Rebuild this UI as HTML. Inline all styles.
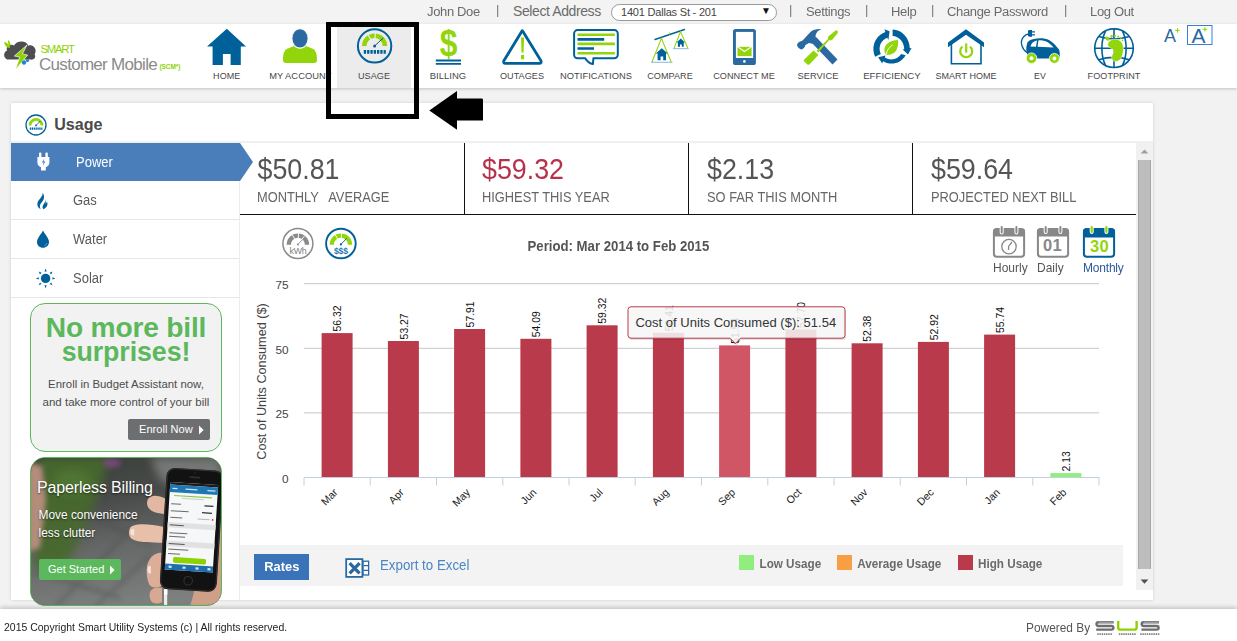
<!DOCTYPE html>
<html>
<head>
<meta charset="utf-8">
<title>Usage</title>
<style>
*{box-sizing:border-box;margin:0;padding:0}
html,body{width:1237px;height:641px;overflow:hidden}
body{position:relative;background:#f2f2f2;font-family:"Liberation Sans",sans-serif;color:#555;font-size:13px;line-height:1}
.abs,.t{position:absolute}
.t{white-space:nowrap;line-height:1;transform:scaleY(1.1);transform-origin:0 84.65%}
.n{transform:none}
svg{position:absolute;overflow:visible}
#topbar{left:0;top:0;width:1237px;height:24px;background:#f3f3f3}
#topbar .t{top:5px;font-size:13px;color:#6b6b6b;letter-spacing:-0.35px;transform:scaleY(1.04)}
#topbar .sep{color:#777;top:3.2px;font-size:13px;letter-spacing:0}
#header{left:0;top:24px;width:1237px;height:64px;background:#fff;box-shadow:0 1px 3px rgba(0,0,0,.2)}
.lbl{position:absolute;top:71px;width:120px;margin-left:-60px;font-size:9.15px;line-height:10px;color:#474747;text-align:center;white-space:nowrap;letter-spacing:0.05px}
#panel{left:11px;top:103px;width:1142px;height:497px;background:#fff;box-shadow:0 0 3px rgba(0,0,0,.15)}
#footer{left:0;top:608.5px;width:1237px;height:33px;background:#fff;box-shadow:0 -2px 4px rgba(0,0,0,.18)}
</style>
</head>
<body>
<div id="topbar" class="abs">
  <span class="t" style="left:427px">John Doe</span>
  <span class="t sep" style="left:496px">|</span>
  <span class="t" style="left:513px;font-size:14px;letter-spacing:-0.4px;top:4.4px;transform:none">Select Address</span>
  <div class="abs" style="left:611px;top:3.5px;width:166px;height:17px;border:1px solid #9a9a9a;border-radius:9px;background:#fff"></div>
  <span class="t" style="left:621px;top:6.6px;font-size:11px;color:#444;letter-spacing:-0.2px;transform:none">1401 Dallas St - 201</span>
  <span class="t" style="left:761px;top:6.4px;font-size:10px;color:#111;letter-spacing:0;transform:none">&#9660;</span>
  <span class="t sep" style="left:789px">|</span>
  <span class="t" style="left:806px">Settings</span>
  <span class="t sep" style="left:865px">|</span>
  <span class="t" style="left:891px">Help</span>
  <span class="t sep" style="left:931px">|</span>
  <span class="t" style="left:947px">Change Password</span>
  <span class="t sep" style="left:1064px">|</span>
  <span class="t" style="left:1090px">Log Out</span>
</div>
<div id="header" class="abs"></div>
<div class="abs" style="left:337px;top:27px;width:74px;height:61px;background:#ececec"></div>
<!-- header icons, page coordinates -->
<svg width="1237" height="100" viewBox="0 0 1237 100" style="left:0;top:0">
  <!-- logo cloud -->
  <g>
    <path d="M9 59.6 C3.6 59.6 2.4 52.6 7 50.4 C5.6 45.6 11 43.4 14 45.6 C16 40.4 26.4 39.6 28.4 45.8 C33.6 43.6 37.6 50 34.6 54.6 C36.6 57.8 33.4 60.4 30 59.6 Z" fill="#4e4e50"/>
    <path d="M27 45 L14.4 56 L19.6 57 L15.4 70 L27.6 55 L22.4 54 Z" fill="#8ed300" stroke="#fff" stroke-width="0.7"/>
    <path d="M4 42 C6 42 9 44 10 48 C7 48 5 46 4 42 Z M8 40 C10 41 11 44 10 47 C8 45 8 42 8 40Z" fill="#8ed300"/>
    <circle cx="24" cy="62.5" r="2.2" fill="#1f86d0"/><circle cx="27.5" cy="60.5" r="1.6" fill="#1f86d0"/>
  </g>
  <!-- HOME -->
  <path d="M226.8 28.8 L246 46.6 L240.8 46.6 L240.8 65 L230.6 65 L230.6 54 L222.9 54 L222.9 65 L212.6 65 L212.6 46.6 L207 46.6 Z" fill="#00609a"/>
  <!-- MY ACCOUNT -->
  <path d="M283 60 C283 52 285 49.5 288 48.5 L294 46 C297 49.5 303 49.5 306 46 L312 48.5 C315 49.5 317 52 317 60 C317 62 316 63 314 63 L286 63 C284 63 283 62 283 60 Z" fill="#92d50a"/>
  <ellipse cx="300" cy="38.4" rx="8" ry="9.6" fill="#2a6aa0" stroke="#fff" stroke-width="0.8"/>
  <!-- USAGE -->
  <g>
    <circle cx="374.6" cy="45.9" r="16.7" fill="none" stroke="#00609a" stroke-width="2"/>
    <path d="M362 46 A12.6 12.6 0 0 1 387.2 46 L382.6 46 A8 8 0 0 0 366.6 46 Z" fill="#92d50a"/>
    <path d="M374.6 46 L367.6 34 M374.6 46 L375.4 32" stroke="#ececec" stroke-width="1.2"/>
    <path d="M374.6 46 L383.2 38" stroke="#00609a" stroke-width="1" />
    <circle cx="374.6" cy="46" r="1.5" fill="#00609a"/>
    <path d="M363.8 51.8 h22" stroke="#00609a" stroke-width="3.8" stroke-dasharray="2.3 1"/>
  </g>
  <!-- BILLING -->
  <text transform="translate(448.6 55.8) scale(0.875 1)" x="0" y="0" font-family="Liberation Sans" font-weight="700" font-size="36.4" fill="#92d50a" text-anchor="middle">$</text>
  <path d="M435.8 60.5 h25.2 M435.8 63.9 h25.2" stroke="#00609a" stroke-width="1.9"/>
  <!-- OUTAGES -->
  <path d="M522.3 30.6 L540.8 60.5 C541.6 62 541 63.4 539.3 63.4 L505.5 63.4 C503.8 63.4 503.2 62 504 60.5 Z" fill="none" stroke="#00609a" stroke-width="2.8" stroke-linejoin="round"/>
  <path d="M521 37.6 h3.1 l-0.5 15 h-2.1 Z" fill="#92d50a"/><rect x="521" y="55" width="3.1" height="4.2" fill="#92d50a"/>
  <!-- NOTIFICATIONS -->
  <path d="M577.6 30.1 h36.7 a3.5 3.5 0 0 1 3.5 3.5 v21.2 a3.5 3.5 0 0 1 -3.5 3.5 h-20.8 c-0.6 3 -0.3 4.8 -0.7 5.8 c-3 -0.6 -5.6 -3 -7.6 -5.8 h-7.6 a3.5 3.5 0 0 1 -3.5 -3.5 v-21.2 a3.5 3.5 0 0 1 3.5 -3.5 Z" fill="#fff" stroke="#00609a" stroke-width="2"/>
  <path d="M577.5 34.8 h37.4 M577.5 43.9 h37.4 M577.5 53.2 h37.4" stroke="#92d50a" stroke-width="2.6"/>
  <path d="M577.5 39.4 h26.7 M577.5 48.5 h16.5" stroke="#00609a" stroke-width="2.6"/>
  <!-- COMPARE -->
  <g>
    <path d="M655 39.5 L684.5 29.5" stroke="#00609a" stroke-width="1.4" stroke-linecap="round"/>
    <path d="M652 62 L661.4 38.4 L671.2 62 M674 48.4 L680.5 31.6 L687.9 48.4 M669.5 32.5 v2" stroke="#92d50a" stroke-width="1.1" fill="none"/>
    <path d="M651 62.3 h21.5 M673 48.7 h15.6" stroke="#6fa6cf" stroke-width="0.8"/>
    <path d="M661.8 48.2 L667.8 53.6 L666 53.6 L666 60.2 L663.2 60.2 L663.2 56.6 L660.6 56.6 L660.6 60.2 L657.6 60.2 L657.6 53.6 L655.8 53.6 Z" fill="#00609a"/>
    <path d="M680.8 38.6 L685 42.4 L683.7 42.4 L683.7 46.8 L681.8 46.8 L681.8 44.4 L680 44.4 L680 46.8 L677.9 46.8 L677.9 42.4 L676.6 42.4 Z" fill="#00609a"/>
  </g>
  <!-- CONNECT ME -->
  <rect x="733" y="28.9" width="22.9" height="36.1" rx="2.6" fill="#2a6aa0"/>
  <rect x="735.9" y="31.9" width="17.3" height="26.1" fill="#fff"/>
  <rect x="737.5" y="46.8" width="14.1" height="9.3" fill="#92d50a"/>
  <path d="M737.5 46.6 L744.5 51.5 L751.6 46.6" fill="none" stroke="#fff" stroke-width="1.1"/>
  <circle cx="744.4" cy="61.4" r="1.3" fill="#fff"/>
  <!-- SERVICE -->
  <g>
    <path d="M813 40.5 L816.5 37.6 L837.5 59.5 L832.5 64.4 L813.4 44.6 Z" fill="#2a6aa0"/>
    <path d="M821.4 29 C816 28.6 812 30 810 32.4 L802.6 40.4 C800 41 797.6 42.6 797 44.6 C796.8 46.6 799.6 49.6 801.6 49.4 C803.6 49 805 47 805.4 45 L809 43 L815.6 44.6 L818.4 39.4 L815.6 37 C815.4 33.6 817.6 30.6 821.4 29 Z" fill="#2a6aa0"/>
    <path d="M837.3 30.8 C838.2 31.4 838 32.6 837.4 33.4 L832.4 39.6 C831.4 40.6 830 40.6 829.2 40 L818.4 52.4 L816.6 50.8 L828 39 C827.6 38 827.8 37 828.8 36 L835 31 C835.8 30.4 836.8 30.4 837.3 30.8 Z" fill="#92d50a"/>
    <path d="M813.6 50.4 L818.4 55 L809.4 64.4 C808.6 65 808 65 807.4 64.4 L804.2 61.4 C803.6 60.8 803.6 60 804.2 59.4 Z" fill="#92d50a"/>
  </g>
  <!-- EFFICIENCY -->
  <g id="eff" transform="translate(891.6 46.5) scale(1.0 1.05) translate(-891.6 -45.1)">
  <g fill="#00609a">
    <path d="M889.6 30.5 L884.4 28.6 L885.4 31.2 C878 33.6 873.4 40.4 873.4 47.4 C873.4 50 874 52.6 875.2 54.8 L880.8 52.2 C880 50.6 879.6 49 879.6 47.4 C879.6 42.6 882.6 38.4 887.4 36.8 L888.4 39 Z"/>
    <path d="M892.6 28.8 C901.8 29 909.8 37 909.8 46.8 L911.6 46.6 L908 52.8 L902.6 48 L904.2 47.6 C904.2 41 899.2 35.2 892.6 35 Z"/>
    <path d="M905.6 53.4 C902.6 58.6 897.4 61.4 891.6 61.4 C888.4 61.4 885.4 60.6 883 59.2 L882.2 61.4 L878.2 55.4 L885.6 53.6 L884.8 55.6 C886.8 56.8 889.2 57.4 891.6 57.4 C895.4 57.4 899 55.4 901.2 52.2 Z"/>
  </g>
  <path d="M898 39 C892 39 886 41.6 884.6 46.6 C883.8 49.4 885 52 886.4 53 C889.4 53.4 894.4 52 896.4 48.6 C898 45.8 898.4 42.4 898 39 Z" fill="#92d50a"/>
  <path d="M886.2 52.6 C887 48.4 889.4 45.4 892.6 43.6" stroke="#fff" stroke-width="0.9" fill="none"/>
  </g>
  <!-- SMART HOME -->
  <path d="M966 29.2 L984 42.6 L984 47.2 L966 34.8 L948 47.2 L948 42.6 Z" fill="#00609a"/>
  <path d="M951.4 44 V63.8 H981 V44" fill="none" stroke="#00609a" stroke-width="1.6"/>
  <path d="M962.4 46.6 A6 6 0 1 0 970 46.6" fill="none" stroke="#92d50a" stroke-width="2.2"/>
  <path d="M966.2 43.4 V52.6" stroke="#92d50a" stroke-width="2.2"/>
  <!-- EV -->
  <g>
    <path d="M1027 53 C1025.6 49 1026.4 44 1028.6 41 C1034 37.6 1044 37.4 1049 40 C1053 42.4 1056.4 46 1059 49.6 C1060 52 1060 56 1059.4 58.4 L1027.4 58.4 Z" fill="#00609a"/>
    <path d="M1030.4 46.4 C1031.4 43.4 1033.4 41.2 1037 40.6 L1036 46.8 Z M1038.4 40.4 C1043 40 1047 41.4 1050 44 C1051.6 45.4 1052.6 46.4 1053.6 47.6 L1037.6 46.8 Z" fill="#fff"/>
    <path d="M1027 52.6 C1021.6 49 1019.6 41.6 1023.4 37 C1025 35 1026.8 34.2 1028.6 34" fill="none" stroke="#00609a" stroke-width="1.3"/>
    <path d="M1028 31.2 C1028 30.4 1028.6 30 1029.4 30 L1032 30 L1032 31.2 L1035 31.2 L1035 32.6 L1032 32.6 L1032 34.2 L1035 34.2 L1035 35.6 L1032 35.6 L1032 36.8 L1029.4 36.8 C1028.6 36.8 1028 36.4 1028 35.6 Z" fill="#00609a"/>
    <path d="M1027.6 42 h3 v1.6 h-3 Z" fill="#00609a"/>
    <circle cx="1031.5" cy="58.2" r="5.3" fill="#92d50a" stroke="#fff" stroke-width="0.8"/><circle cx="1031.5" cy="58.2" r="2" fill="#fff"/>
    <circle cx="1054.4" cy="58.4" r="5" fill="#92d50a" stroke="#fff" stroke-width="0.8"/><circle cx="1054.4" cy="58.4" r="2" fill="#fff"/>
  </g>
  <!-- FOOTPRINT -->
  <g fill="none" stroke="#00609a" stroke-width="1.6">
    <circle cx="1114" cy="48.2" r="19.3"/>
    <path d="M1114 29 V67.4 M1094.8 48.2 H1133.2 M1098.6 36.6 C1108 39.6 1120 39.6 1129.4 36.6 M1098.6 59.8 C1108 56.8 1120 56.8 1129.4 59.8 M1105.6 30.8 C1100.6 41 1100.6 55.4 1105.6 65.6 M1122.4 30.8 C1127.4 41 1127.4 55.4 1122.4 65.6"/>
  </g>
  <path d="M1107.8 44 C1108.6 40 1114.4 38 1118.8 40 C1123.4 42.2 1124 48 1123 52.6 C1122.2 56.8 1120.8 60.8 1116.6 61.4 C1113.2 61.8 1111 59.2 1111.8 56.2 C1112.4 54 1114.2 52.6 1113.6 50.6 C1113 48.4 1107 47.4 1107.8 44 Z" fill="#92d50a" stroke="#fff" stroke-width="0.5"/>
  <ellipse cx="1107.4" cy="38.6" rx="2.5" ry="1.7" transform="rotate(35 1107.4 38.6)" fill="#92d50a"/>
  <circle cx="1111.6" cy="36.4" r="1.3" fill="#92d50a"/><circle cx="1115" cy="36" r="1.1" fill="#92d50a"/><circle cx="1118.2" cy="36.6" r="1" fill="#92d50a"/><circle cx="1121" cy="38" r="0.9" fill="#92d50a"/><circle cx="1122.6" cy="40.4" r="0.8" fill="#92d50a"/>
  <!-- A+ -->
  <text x="1164" y="41.8" font-family="Liberation Sans" font-size="18" fill="#2a6aa0">A</text>
  <path d="M1175.2 30.4 h4.6 M1177.5 28.1 v4.6" stroke="#92d50a" stroke-width="1"/>
  <rect x="1187.5" y="25.5" width="24.5" height="19" fill="#fff" stroke="#3a7fd5" stroke-width="1"/>
  <text x="1191.6" y="42.6" font-family="Liberation Sans" font-size="21" fill="#2a6aa0">A</text>
  <path d="M1202.6 29.4 h4.6 M1204.9 27.1 v4.6" stroke="#92d50a" stroke-width="1"/>
</svg>
<!-- logo text -->
<span class="t n" style="left:40.5px;top:43.6px;font-size:11.4px;color:#8ed300;letter-spacing:-1.3px">SMART</span>
<span class="t n" style="left:39px;top:56.4px;font-size:17px;color:#8a8a8a;letter-spacing:-0.7px">Customer Mobile</span>
<span class="t n" style="left:159.5px;top:63.8px;font-size:6.5px;font-weight:700;color:#8ed300;letter-spacing:-0.1px">(SCM*)</span>
<!-- nav labels -->
<div class="lbl" style="left:226.7px;font-size:9.0px">HOME</div>
<div class="lbl" style="left:300.3px;font-size:9.3px">MY ACCOUNT</div>
<div class="lbl" style="left:374px;font-size:9.1px">USAGE</div>
<div class="lbl" style="left:448px;font-size:9.45px">BILLING</div>
<div class="lbl" style="left:522px;font-size:9.1px">OUTAGES</div>
<div class="lbl" style="left:596px;font-size:9.33px">NOTIFICATIONS</div>
<div class="lbl" style="left:670px;font-size:9.1px">COMPARE</div>
<div class="lbl" style="left:744px;font-size:9.13px">CONNECT ME</div>
<div class="lbl" style="left:818px;font-size:9.3px">SERVICE</div>
<div class="lbl" style="left:892px;font-size:9.65px">EFFICIENCY</div>
<div class="lbl" style="left:966px;font-size:9.0px">SMART HOME</div>
<div class="lbl" style="left:1040px;font-size:8.8px">EV</div>
<div class="lbl" style="left:1114px;font-size:9.07px">FOOTPRINT</div>
<div id="panel" class="abs"></div>
<!-- Usage title -->
<svg width="24" height="24" viewBox="0 0 24 24" style="left:24.2px;top:113.3px">
  <circle cx="12" cy="12" r="10" fill="#fff" stroke="#00609a" stroke-width="1.3"/>
  <path d="M4.6 12.4 A7.4 7.4 0 0 1 19.4 12.4 L16.6 12.4 A4.6 4.6 0 0 0 7.4 12.4 Z" fill="#92d50a"/>
  <path d="M12 12.4 L16.4 8" stroke="#00609a" stroke-width="0.8"/><circle cx="12" cy="12.4" r="0.9" fill="#00609a"/>
  <path d="M5.8 15.6 h12.6" stroke="#00609a" stroke-width="2.2" stroke-dasharray="1.3 0.6"/>
</svg>
<span class="t n" style="left:54.2px;top:116.3px;font-size:16.1px;font-weight:700;color:#4a4a4a">Usage</span>
<!-- top light line of content -->
<div class="abs" style="left:11px;top:141px;width:1142px;height:2px;background:#f0f0f0"></div>
<!-- sidebar -->
<div class="abs" style="left:239px;top:181px;width:1px;height:419px;background:#ececec"></div>
<div class="abs" style="left:11px;top:143px;width:229px;height:38px;background:#4a7ebb"></div>
<svg width="16" height="40" viewBox="0 0 16 40" style="left:239px;top:142px"><path d="M0 1 L1 1 L14 20 L1 39 L0 39 Z" fill="#4a7ebb"/></svg>
<div class="abs" style="left:11px;top:219px;width:228px;height:1px;background:#e6e6e6"></div>
<div class="abs" style="left:11px;top:258px;width:228px;height:1px;background:#e6e6e6"></div>
<div class="abs" style="left:11px;top:297px;width:228px;height:1px;background:#e6e6e6"></div>
<span class="t" style="left:76px;top:156px;font-size:13px;color:#fff">Power</span>
<span class="t" style="left:73px;top:193.5px;font-size:13px;color:#5a5a5a">Gas</span>
<span class="t" style="left:73px;top:232.5px;font-size:13px;color:#5a5a5a">Water</span>
<span class="t" style="left:73px;top:271.5px;font-size:13px;color:#5a5a5a">Solar</span>
<svg width="60" height="160" viewBox="0 140 60 160" style="left:0;top:140px">
  <!-- plug -->
  <g fill="#fff">
    <rect x="39" y="152.4" width="2.4" height="6" rx="1"/><rect x="45.4" y="152.4" width="2.4" height="6" rx="1"/>
    <path d="M37.4 157 h12 v5.6 c0 2.4 -1.6 4.2 -3.6 4.6 v3.4 h-4.8 v-3.4 c-2 -0.4 -3.6 -2.2 -3.6 -4.6 Z"/>
  </g>
  <path d="M44.4 158.4 L41.8 162.6 L43.6 162.6 L42.6 166 L45.4 161.6 L43.6 161.6 Z" fill="#4a7ebb"/>
  <!-- flame -->
  <path d="M42.6 192.6 C43.6 196.6 38 199.4 37.4 203.4 C37 206 38.6 208.4 40.6 209 C39 206.4 40 203.8 42 202 C44.6 199.4 44.6 195.6 42.6 192.6 Z" fill="#00609a"/>
  <path d="M45 199 C46.6 201.6 43 204 42.6 206.6 C42.4 207.6 42.8 208.6 43.4 209.2 C46 208.4 48.6 205.4 47 201.6 C46.6 203 46 203.6 45.6 203.6 C46 202 45.8 200.4 45 199 Z" fill="#00609a"/>
  <!-- drop -->
  <path d="M43 230.4 C45 234.4 49 238 49 242 C49 245.4 46.4 247.8 43 247.8 C39.6 247.8 37 245.4 37 242 C37 238 41 234.4 43 230.4 Z" fill="#00609a"/>
  <path d="M46.8 243 C46.6 244.6 45.6 245.6 44.4 246" stroke="#8fb8d6" stroke-width="0.7" fill="none"/>
  <!-- sun -->
  <circle cx="45.6" cy="278.4" r="4.7" fill="#00609a"/>
  <g fill="#00609a">
    <path d="M45.6 268.6 l1.1 3 h-2.2 Z M45.6 288.2 l1.1 -3 h-2.2 Z M35.8 278.4 l3 -1.1 v2.2 Z M55.4 278.4 l-3 -1.1 v2.2 Z"/>
    <path d="M38.7 271.5 l2.9 1.3 l-1.6 1.6 Z M52.5 271.5 l-2.9 1.3 l1.6 1.6 Z M38.7 285.3 l2.9 -1.3 l-1.6 -1.6 Z M52.5 285.3 l-2.9 -1.3 l1.6 -1.6 Z"/>
  </g>
</svg>
<!-- stats row -->
<div class="abs" style="left:240px;top:214px;width:896px;height:1px;background:#111"></div>
<div class="abs" style="left:464px;top:143px;width:1px;height:72px;background:#111"></div>
<div class="abs" style="left:688px;top:143px;width:1px;height:72px;background:#111"></div>
<div class="abs" style="left:912px;top:143px;width:1px;height:72px;background:#111"></div>
<span class="t" style="left:257.5px;top:156.6px;font-size:26.8px;color:#555">$50.81</span>
<span class="t" style="left:482px;top:156.6px;font-size:26.8px;color:#b5334a">$59.32</span>
<span class="t" style="left:707px;top:156.6px;font-size:26.8px;color:#555">$2.13</span>
<span class="t" style="left:931px;top:156.6px;font-size:26.8px;color:#555">$59.64</span>
<span class="t" style="left:257px;top:192px;font-size:12.85px;color:#666;white-space:pre;word-spacing:1.6px">MONTHLY  AVERAGE</span>
<span class="t" style="left:482px;top:192px;font-size:12.85px;color:#666">HIGHEST THIS YEAR</span>
<span class="t" style="left:707px;top:192px;font-size:12.85px;color:#666">SO FAR THIS MONTH</span>
<span class="t" style="left:931px;top:192px;font-size:12.85px;color:#666">PROJECTED NEXT BILL</span>
<svg width="1237" height="641" viewBox="0 0 1237 641" style="left:0;top:0" font-family="Liberation Sans">
<path d="M304.0 283.7 H1099.0" stroke="#c6c6c6" stroke-width="1"/>
<path d="M304.0 348.3 H1099.0" stroke="#c6c6c6" stroke-width="1"/>
<path d="M304.0 412.9 H1099.0" stroke="#c6c6c6" stroke-width="1"/>
<rect x="321.6" y="333.1" width="31" height="144.4" fill="#b93a4b"/>
<text transform="translate(341.3 331.5) rotate(-90)" font-size="10.4" fill="#111">56.32</text>
<text transform="translate(338.3 493.0) rotate(-45)" font-size="10.6" fill="#222" text-anchor="end">Mar</text>
<rect x="387.9" y="341.0" width="31" height="136.5" fill="#b93a4b"/>
<text transform="translate(407.6 339.4) rotate(-90)" font-size="10.4" fill="#111">53.27</text>
<text transform="translate(404.6 493.0) rotate(-45)" font-size="10.6" fill="#222" text-anchor="end">Apr</text>
<rect x="454.1" y="329.0" width="31" height="148.5" fill="#b93a4b"/>
<text transform="translate(473.8 327.4) rotate(-90)" font-size="10.4" fill="#111">57.91</text>
<text transform="translate(470.8 493.0) rotate(-45)" font-size="10.6" fill="#222" text-anchor="end">May</text>
<rect x="520.4" y="338.8" width="31" height="138.7" fill="#b93a4b"/>
<text transform="translate(540.1 337.2) rotate(-90)" font-size="10.4" fill="#111">54.09</text>
<text transform="translate(537.1 493.0) rotate(-45)" font-size="10.6" fill="#222" text-anchor="end">Jun</text>
<rect x="586.6" y="325.3" width="31" height="152.2" fill="#b93a4b"/>
<text transform="translate(606.3 323.7) rotate(-90)" font-size="10.4" fill="#111">59.32</text>
<text transform="translate(603.3 493.0) rotate(-45)" font-size="10.6" fill="#222" text-anchor="end">Jul</text>
<rect x="652.9" y="332.8" width="31" height="144.7" fill="#b93a4b"/>
<text transform="translate(672.6 331.2) rotate(-90)" font-size="10.4" fill="#111">56.41</text>
<text transform="translate(669.6 493.0) rotate(-45)" font-size="10.6" fill="#222" text-anchor="end">Aug</text>
<rect x="719.1" y="345.4" width="31" height="132.1" fill="#d05565"/>
<text transform="translate(738.8 343.8) rotate(-90)" font-size="10.4" fill="#111">51.54</text>
<text transform="translate(735.8 493.0) rotate(-45)" font-size="10.6" fill="#222" text-anchor="end">Sep</text>
<rect x="785.4" y="329.5" width="31" height="148.0" fill="#b93a4b"/>
<text transform="translate(805.1 327.9) rotate(-90)" font-size="10.4" fill="#111">57.70</text>
<text transform="translate(802.1 493.0) rotate(-45)" font-size="10.6" fill="#222" text-anchor="end">Oct</text>
<rect x="851.6" y="343.3" width="31" height="134.2" fill="#b93a4b"/>
<text transform="translate(871.3 341.7) rotate(-90)" font-size="10.4" fill="#111">52.38</text>
<text transform="translate(868.3 493.0) rotate(-45)" font-size="10.6" fill="#222" text-anchor="end">Nov</text>
<rect x="917.9" y="341.9" width="31" height="135.6" fill="#b93a4b"/>
<text transform="translate(937.6 340.3) rotate(-90)" font-size="10.4" fill="#111">52.92</text>
<text transform="translate(934.6 493.0) rotate(-45)" font-size="10.6" fill="#222" text-anchor="end">Dec</text>
<rect x="984.1" y="334.6" width="31" height="142.9" fill="#b93a4b"/>
<text transform="translate(1003.8 333.0) rotate(-90)" font-size="10.4" fill="#111">55.74</text>
<text transform="translate(1000.8 493.0) rotate(-45)" font-size="10.6" fill="#222" text-anchor="end">Jan</text>
<rect x="1050.4" y="473.1" width="31" height="4.4" fill="#90ee7e"/>
<text transform="translate(1070.1 471.5) rotate(-90)" font-size="10.4" fill="#111">2.13</text>
<text transform="translate(1067.1 493.0) rotate(-45)" font-size="10.6" fill="#222" text-anchor="end">Feb</text>
<path d="M304.0 477.5 H1099.0" stroke="#c0d0e0" stroke-width="1"/>
<path d="M304.0 477.5 v8 M370.2 477.5 v8 M436.5 477.5 v8 M502.8 477.5 v8 M569.0 477.5 v8 M635.2 477.5 v8 M701.5 477.5 v8 M767.8 477.5 v8 M834.0 477.5 v8 M900.2 477.5 v8 M966.5 477.5 v8 M1032.8 477.5 v8 M1099.0 477.5 v8 " stroke="#c0d0e0" stroke-width="1"/>
<text x="288.5" y="289.1" font-size="11.8" fill="#444" text-anchor="end">75</text>
<text x="288.5" y="353.7" font-size="11.8" fill="#444" text-anchor="end">50</text>
<text x="288.5" y="418.3" font-size="11.8" fill="#444" text-anchor="end">25</text>
<text x="288.5" y="482.9" font-size="11.8" fill="#444" text-anchor="end">0</text>
<text transform="translate(265.5 381.5) rotate(-90)" font-size="12.7" fill="#444" text-anchor="middle">Cost of Units Consumed ($)</text>
</svg>
<!-- chart toolbar -->
<svg width="90" height="40" viewBox="280 224 90 40" style="left:280px;top:224px" font-family="Liberation Sans">
  <circle cx="297.9" cy="243.5" r="15" fill="#fff" stroke="#8a8a8a" stroke-width="1.5"/>
  <path d="M286.6 244.8 A11.3 11.3 0 0 1 309.2 244.8 L304.9 244.8 A7 7 0 0 0 290.9 244.8 Z" fill="#8a8a8a"/>
  <path d="M297.9 244.6 L292.4 235 M297.9 244.6 L298.6 233 M297.9 244.6 L304.4 236" stroke="#fff" stroke-width="0.9"/>
  <path d="M297.9 244.4 L302.6 239.6" stroke="#8a8a8a" stroke-width="0.9"/><circle cx="297.9" cy="244.4" r="1" fill="#8a8a8a"/>
  <text x="297.9" y="253.8" font-size="8.8" fill="#808080" text-anchor="middle" letter-spacing="-0.3">kWh</text>
  <circle cx="340.9" cy="243.5" r="14.8" fill="#fff" stroke="#00609a" stroke-width="1.9"/>
  <path d="M329.6 244.8 A11.3 11.3 0 0 1 352.2 244.8 L347.9 244.8 A7 7 0 0 0 333.9 244.8 Z" fill="#92d50a"/>
  <path d="M340.9 244.6 L335.4 235 M340.9 244.6 L341.6 233" stroke="#fff" stroke-width="0.9"/>
  <path d="M340.9 244.4 L346.6 238.4" stroke="#00609a" stroke-width="0.9"/><circle cx="340.9" cy="244.4" r="1.1" fill="#00609a"/>
  <text x="340.9" y="253.6" font-size="8.6" font-weight="700" fill="#1f78b4" text-anchor="middle" letter-spacing="-0.2">$$$</text>
</svg>
<span class="t" style="left:527.5px;top:239.5px;font-size:13.2px;font-weight:700;color:#555">Period: Mar 2014 to Feb 2015</span>
<!-- calendar icons -->
<svg width="140" height="40" viewBox="990 222 140 40" style="left:990px;top:222px" font-family="Liberation Sans">
  <g>
    <rect x="993.9" y="229.1" width="30.2" height="27.7" rx="3" fill="#fff" stroke="#888" stroke-width="2"/>
    <path d="M993 236.6 V231.6 a3 3 0 0 1 3 -3 h26 a3 3 0 0 1 3 3 V236.6 Z" fill="#888"/>
    <path d="M1001.7 227 v5.6 M1016.4 227 v5.6" stroke="#fff" stroke-width="4" stroke-linecap="round"/>
    <path d="M1001.7 227 v5.6 M1016.4 227 v5.6" stroke="#888" stroke-width="2" stroke-linecap="round"/>
    <circle cx="1009" cy="246.6" r="7.2" fill="none" stroke="#888" stroke-width="1.3"/>
    <path d="M1008.6 250 V246.4 L1012 242" fill="none" stroke="#888" stroke-width="1.3"/>
  </g>
  <g>
    <rect x="1037.9" y="229.1" width="30.2" height="27.7" rx="3" fill="#fff" stroke="#888" stroke-width="2"/>
    <path d="M1037 236.6 V231.6 a3 3 0 0 1 3 -3 h26 a3 3 0 0 1 3 3 V236.6 Z" fill="#888"/>
    <path d="M1045.7 227 v5 M1060.4 227 v5" stroke="#fff" stroke-width="4" stroke-linecap="round"/>
    <path d="M1045.7 227 v5 M1060.4 227 v5" stroke="#888" stroke-width="2" stroke-linecap="round"/>
    <text x="1052.6" y="251.4" font-size="16.5" font-weight="700" fill="#888" text-anchor="middle" letter-spacing="0.3">01</text>
  </g>
  <g>
    <rect x="1083.9" y="229.1" width="30.2" height="27.7" rx="3" fill="#fff" stroke="#00609a" stroke-width="2"/>
    <path d="M1083 237.6 V231.6 a3 3 0 0 1 3 -3 h26 a3 3 0 0 1 3 3 V237.6 Z" fill="#00609a"/>
    <path d="M1091.7 227 v5 M1106.4 227 v5" stroke="#fff" stroke-width="4" stroke-linecap="round"/>
    <path d="M1091.7 227 v5 M1106.4 227 v5" stroke="#92d50a" stroke-width="2.2" stroke-linecap="round"/>
    <text x="1099.4" y="252.4" font-size="16.5" font-weight="700" fill="#92d50a" text-anchor="middle" letter-spacing="0.3">30</text>
  </g>
</svg>
<span class="t" style="left:993px;top:261.5px;font-size:12px;color:#555">Hourly</span>
<span class="t" style="left:1037px;top:261.5px;font-size:12px;color:#555">Daily</span>
<span class="t" style="left:1083px;top:261.5px;font-size:12px;color:#2a5a9a;letter-spacing:-0.2px">Monthly</span>
<!-- tooltip -->
<svg width="240" height="50" viewBox="620 300 240 50" style="left:620px;top:300px">
  <path d="M631 307.6 h211 a3 3 0 0 1 3 3 v25 a3 3 0 0 1 -3 3 h-101.5 l-5.2 5.2 l-5.2 -5.2 h-99.1 a3 3 0 0 1 -3 -3 v-25 a3 3 0 0 1 3 -3 Z" fill="#000" opacity="0.12" transform="translate(1 1.4)"/>
  <path d="M631 306.8 h211 a3 3 0 0 1 3 3 v25.4 a3 3 0 0 1 -3 3 h-101.5 l-5.2 5.4 l-5.2 -5.4 h-99.1 a3 3 0 0 1 -3 -3 v-25.4 a3 3 0 0 1 3 -3 Z" fill="rgba(250,250,250,0.86)" stroke="#b93a4b" stroke-width="1"/>
</svg>
<span class="t n" style="left:635.4px;top:316.4px;font-size:13px;color:#333;letter-spacing:0.02px">Cost of Units Consumed ($): 51.54</span>
<!-- bottom band -->
<div class="abs" style="left:240px;top:545px;width:883px;height:40.5px;background:#f3f3f3"></div>
<div class="abs" style="left:254px;top:554px;width:55px;height:26px;background:#3b73b9"></div>
<span class="t" style="left:264.3px;top:561.2px;font-size:12.9px;font-weight:700;color:#fff;transform:scaleY(1.05)">Rates</span>
<svg width="28" height="26" viewBox="344 555 28 26" style="left:344px;top:555px">
  <rect x="363" y="561.2" width="5.6" height="13.8" fill="#fff" stroke="#2a6aa0" stroke-width="1.3"/>
  <path d="M363.6 565.6 h4.6 M363.6 570.4 h4.6" stroke="#2a6aa0" stroke-width="1.2"/>
  <rect x="346.2" y="559.1" width="16.2" height="17.8" fill="#fff" stroke="#2a6aa0" stroke-width="1.8"/>
  <path d="M349.6 563.2 L359.6 573.4 M359.6 563.2 L349.6 573.4" stroke="#2a6aa0" stroke-width="3.3"/>
</svg>
<span class="t" style="left:380px;top:558.5px;font-size:13.3px;color:#4a86c5">Export to Excel</span>
<div class="abs" style="left:739px;top:555px;width:15px;height:15px;background:#90ee7e"></div>
<span class="t" style="left:759.5px;top:558.4px;font-size:11.7px;font-weight:700;color:#6a6a6a">Low Usage</span>
<div class="abs" style="left:837px;top:555px;width:15px;height:15px;background:#f89e43"></div>
<span class="t" style="left:857.3px;top:558.4px;font-size:11.7px;font-weight:700;color:#6a6a6a">Average Usage</span>
<div class="abs" style="left:958px;top:555px;width:15px;height:15px;background:#b93a4b"></div>
<span class="t" style="left:978px;top:558.4px;font-size:11.7px;font-weight:700;color:#6a6a6a">High Usage</span>
<!-- scrollbar -->
<div class="abs" style="left:1136px;top:143px;width:17px;height:447px;background:#f1f1f1"></div>
<div class="abs" style="left:1138px;top:160px;width:13px;height:409px;background:#bdbdbd;border-left:1px solid #a8a8a8;border-right:1px solid #a8a8a8"></div>
<svg width="16" height="447" viewBox="0 0 16 447" style="left:1137px;top:143px">
  <path d="M3.6 10.6 L7.5 6.4 L11.4 10.6 Z" fill="#a0a0a0"/>
  <path d="M3.6 436.4 L7.5 440.8 L11.4 436.4 Z" fill="#505050"/>
</svg>
<!-- ad 1 -->
<div class="abs" style="left:30px;top:303px;width:192px;height:149px;border:1px solid #5cb85c;border-radius:15px;background:#f2f2f2"></div>
<span class="t n" style="left:26px;width:200px;text-align:center;top:313px;font-size:28.2px;font-weight:700;color:#5cb85c;letter-spacing:-0.2px">No more bill</span>
<span class="t n" style="left:26px;width:200px;text-align:center;top:339px;font-size:26.8px;font-weight:700;color:#5cb85c;letter-spacing:-0.1px">surprises!</span>
<span class="t n" style="left:26px;width:200px;text-align:center;top:378.7px;font-size:11.4px;color:#4c4c4c">Enroll in Budget Assistant now,</span>
<span class="t n" style="left:26px;width:200px;text-align:center;top:396.7px;font-size:11.5px;color:#4c4c4c">and take more control of your bill</span>
<div class="abs" style="left:128px;top:419px;width:82px;height:21px;background:#6d6e70;border-radius:2px"></div>
<span class="t n" style="left:139px;top:424px;font-size:11.1px;color:#fff">Enroll Now</span>
<svg width="8" height="10" viewBox="0 0 8 10" style="left:198px;top:424.6px"><path d="M1 0.6 L5.6 5 L1 9.4 Z" fill="#fff"/></svg>
<!-- ad 2 -->
<div class="abs" style="left:30px;top:457px;width:192px;height:149px;border:1px solid #5cb85c;border-radius:15px;overflow:hidden;background:#585a58">
  <svg width="192" height="149" viewBox="30 457 192 149" style="left:-1px;top:-1px">
    <defs>
      <linearGradient id="bg1" x1="0.3" y1="0" x2="0.5" y2="1"><stop offset="0" stop-color="#3b403b"/><stop offset="0.3" stop-color="#4a4c4b"/><stop offset="0.6" stop-color="#666867"/><stop offset="1" stop-color="#7e807f"/></linearGradient>
      <filter id="bl" x="-20%" y="-20%" width="140%" height="140%"><feGaussianBlur stdDeviation="0.7"/></filter>
      <filter id="bl3" x="-40%" y="-40%" width="180%" height="180%"><feGaussianBlur stdDeviation="5"/></filter>
      <filter id="bl2" x="-40%" y="-40%" width="180%" height="180%"><feGaussianBlur stdDeviation="2.5"/></filter>
    </defs>
    <rect x="30" y="457" width="192" height="149" fill="url(#bg1)"/>
    <path d="M150 457 L222 457 L222 500 L160 480 Z" fill="#8a8c8b" opacity="0.7" filter="url(#bl3)"/>
    <path d="M40 457 L110 457 L96 500 L70 560 L36 570 L30 520 Z" fill="#47692f" opacity="0.95" filter="url(#bl3)"/>
    <ellipse cx="72" cy="482" rx="20" ry="13" fill="#567f38" opacity="0.6" filter="url(#bl3)"/>
    <ellipse cx="112" cy="463" rx="9" ry="5" fill="#8a4a8e" opacity="0.7" filter="url(#bl2)"/>
    <path d="M28 462 L42 466 L46 500 L40 548 L28 552 Z" fill="#b48c7a" filter="url(#bl2)"/>
    <path d="M56 606 L130 530 M96 606 L150 556 M36 572 L120 598 M100 520 L150 545" stroke="#4a4c4b" stroke-width="3" opacity="0.45" filter="url(#bl2)"/>
    <!-- hand -->
    <g filter="url(#bl)">
      <path d="M204 545 C214 535 222 525 222 500 L222 606 L190 606 C196 590 198 565 204 545 Z" fill="#cf9f88"/>
      <path d="M148 499 C151 494.6 158 495 166 499 L168 514 C160 514 152 512.6 148.6 508 C146.6 505 146.6 502 148 499 Z" fill="#e3b8a2"/>
      <path d="M130 528 C133 523.6 146 523 164 527 L164 543 C152 542 138 543 132 539 C128.6 536.6 128.4 531.6 130 528 Z" fill="#e8bfa9"/>
      <path d="M147 566 C149 557 156 551.6 163 553 L165 584 C159 588 151 589 149 584 C147 579 146 573 147 566 Z" fill="#dcae98"/>
      <path d="M150 592 C152 587.6 158 586.6 162 588 L162 602 C158 604.6 152 604 150.6 600 C149.6 597.6 149.4 595 150 592 Z" fill="#d9a892"/>
      <path d="M147.4 569 C147.8 566 149.6 565 150.8 566.4 L151 573 C149.4 574.4 147.2 573 147.4 569 Z" fill="#f4e4da"/>
      <path d="M130.4 530.6 C131.4 528.6 133.6 528.6 134.4 530 L134.2 535 C132.6 536.4 130 535 130.4 530.6 Z" fill="#f4e4da"/>
    </g>
    <!-- phone -->
    <g transform="rotate(3.6 191 529)">
      <rect x="163.2" y="469" width="57" height="121.6" rx="8.5" fill="#121212"/>
      <rect x="164" y="469.8" width="55.4" height="120" rx="8" fill="none" stroke="#3a3a3a" stroke-width="0.8"/>
      <rect x="167.4" y="483.4" width="48" height="87.6" fill="#f6f7f8"/>
      <rect x="167.4" y="483.4" width="48" height="2.6" fill="#1c1c1c"/>
      <rect x="167.4" y="486" width="48" height="7.4" fill="#1f78b4"/>
      <path d="M170 489.6 h5 M183 489.6 h12 M205 489.6 h8" stroke="#cfe3f2" stroke-width="1.2"/>
      <path d="M172 496.6 h38" stroke="#8cc63f" stroke-width="1.1"/>
      <path d="M180 499 h22" stroke="#b9c2c6" stroke-width="0.8"/>
      <path d="M169.6 505 h10 M169.6 512 h18 M169.6 518.6 h12 M169.6 534 h18 M169.6 537.6 h16 M169.6 550.4 h20 M169.6 555 h12" stroke="#6a6a6a" stroke-width="1"/>
      <path d="M203 505 h9 M201 512 h10" stroke="#333" stroke-width="1.2"/>
      <path d="M197 518.6 h12" stroke="#b0b0b0" stroke-width="0.9"/><circle cx="212" cy="518.6" r="0.9" fill="#d33"/>
      <rect x="167.4" y="523.4" width="48" height="5.4" fill="#e1e1e1"/><path d="M169.6 526.2 h14" stroke="#555" stroke-width="1"/>
      <rect x="167.4" y="542" width="48" height="5.4" fill="#e1e1e1"/><path d="M169.6 544.8 h16" stroke="#555" stroke-width="1"/>
      <rect x="175" y="558" width="33" height="5.6" rx="1.6" fill="#8ed300"/>
      <rect x="167.4" y="565" width="48" height="6" fill="#1f6fae"/>
      <path d="M171 568 h3 M185 568 h3 M198 568 h3 M210 568 h3" stroke="#d6e6f4" stroke-width="2.2"/>
      <circle cx="191.4" cy="580.8" r="4.3" fill="none" stroke="#333" stroke-width="1"/>
      <rect x="186" y="476.4" width="11" height="1.7" rx="0.8" fill="#2e2e2e"/>
      <circle cx="191.4" cy="473" r="0.8" fill="#2a2a2a"/>
    </g>
    <path d="M165.6 589 v17" stroke="#ececec" stroke-width="3.2"/>
    <path d="M164 589.5 h3.4 v5 h-3.4 Z" fill="#fff"/>
  </svg>
</div>
<span class="t n" style="left:37px;top:479.5px;font-size:16px;color:#fff;letter-spacing:-0.15px;text-shadow:0 1px 2px rgba(0,0,0,.6)">Paperless Billing</span>
<span class="t n" style="left:38.5px;top:509.5px;font-size:11.9px;color:#fff;text-shadow:0 1px 2px rgba(0,0,0,.6)">Move convenience</span>
<span class="t n" style="left:38.5px;top:528px;font-size:11.9px;color:#fff;text-shadow:0 1px 2px rgba(0,0,0,.6)">less clutter</span>
<div class="abs" style="left:39px;top:559px;width:82px;height:21px;background:#5cb85c;border-radius:2px"></div>
<span class="t n" style="left:48px;top:564px;font-size:11px;color:#fff">Get Started</span>
<svg width="8" height="10" viewBox="0 0 8 10" style="left:109px;top:564.5px"><path d="M1 0.6 L5.6 5 L1 9.4 Z" fill="#fff"/></svg>
<!-- footer -->
<div id="footer" class="abs"></div>
<span class="t" style="left:4px;top:622.5px;font-size:10.48px;color:#222">2015 Copyright Smart Utility Systems (c) | All rights reserved.</span>
<span class="t" style="left:1026px;top:622.8px;font-size:11.9px;color:#555">Powered By</span>
<svg width="70" height="20" viewBox="1093 618 70 20" style="left:1093px;top:618px" font-family="Liberation Sans">
  <g fill="none" stroke-width="2.4" stroke-linejoin="round">
    <path d="M1113.7 622.2 H1098.4 a1.9 1.9 0 0 0 0 3.8 H1111.6 a1.8 1.8 0 0 1 0 3.6 H1096.2" stroke="#6d6e70"/>
    <path d="M1118.2 621 V627.4 a2.2 2.2 0 0 0 2.2 2.2 H1134.4 a2.2 2.2 0 0 0 2.2 -2.2 V621" stroke="#8ed300"/>
    <path d="M1158.9 622.2 H1143.6 a1.9 1.9 0 0 0 0 3.8 H1156.8 a1.8 1.8 0 0 1 0 3.6 H1141.4" stroke="#6d6e70"/>
  </g>
  <path d="M1113 622.2 H1098.6 M1158.2 622.2 H1143.8" stroke="#c9c9c9" stroke-width="0.7"/>
  <path d="M1097.2 634.1 h14.8 M1118.8 634.1 h17 M1140.2 634.1 h19.8" stroke="#6d6e70" stroke-width="1.7" stroke-dasharray="1.5 0.7" opacity="0.85"/>
</svg>
<!-- annotation -->
<div class="abs" style="left:326px;top:22px;width:93px;height:97px;border:5px solid #000"></div>
<svg width="60" height="44" viewBox="426 88 60 44" style="left:426px;top:88px">
  <path d="M429.3 110.4 L457 91 L457 98.6 L481.6 98.6 C482.6 98.6 483 99.2 483 100 L483 120.5 L457 120.5 L457 129.8 Z" fill="#000"/>
</svg>
</body>
</html>
